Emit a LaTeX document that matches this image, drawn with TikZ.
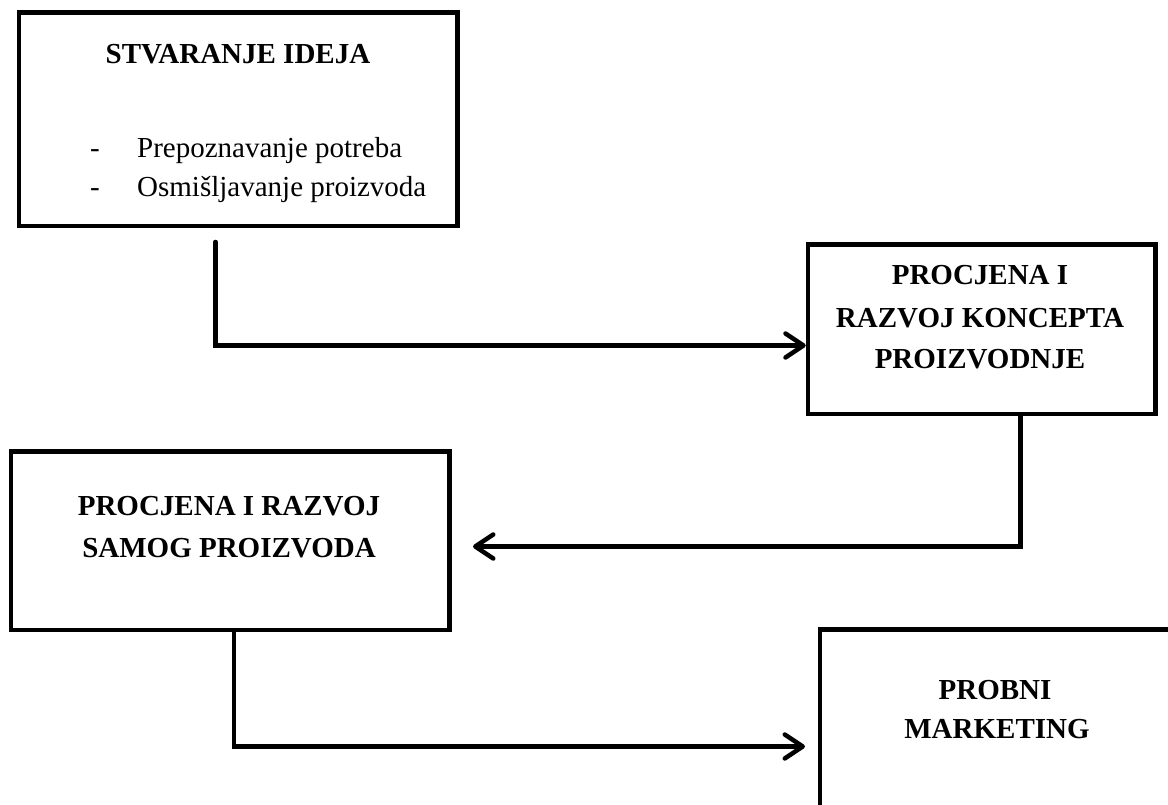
\documentclass[tikz,border=0pt]{standalone}
\usepackage{fontspec}
\setmainfont{Liberation Serif}
\usetikzlibrary{arrows.meta}
\begin{document}
\begin{tikzpicture}[x=1pt,y=-1pt]
\tikzset{
  box/.style={draw=black, line width=4.5pt, inner sep=0pt, rectangle},
  lbl/.style={font=\fontsize{29}{34}\selectfont\bfseries, inner sep=0pt, anchor=base},
  itm/.style={font=\fontsize{29}{34}\selectfont, inner sep=0pt, anchor=base west},
  arr/.style={line width=4.5pt, line cap=round, line join=miter,
    -{Straight Barb[length=18pt,width=24pt,round]}}
}
\useasboundingbox (0,0) rectangle (1168,805);
\clip (0,0) rectangle (1168,805);
\fill[white] (0,0) rectangle (1168,805);

% boxes
\node[box, minimum width=438.5pt, minimum height=213.5pt] (box1) at (238.25,119.25) {};
\node[box, minimum width=347.5pt, minimum height=169.5pt] (box2) at (981.75,329.25) {};
\node[box, minimum width=438.5pt, minimum height=178.5pt] (box3) at (230.25,540.75) {};
\node[box, minimum width=380pt, minimum height=220.5pt] (box4) at (1010,739.75) {};

% texts
\node[lbl] (t1) at (238,64) {STVARANJE IDEJA};
\node[itm] (d1) at (90,158) {-};
\node[itm] (i1) at (137,158) {Prepoznavanje potreba};
\node[itm] (d2) at (90,197) {-};
\node[itm] (i2) at (137,197) {Osmišljavanje proizvoda};

\node[lbl] (t2a) at (980,285) {PROCJENA I};
\node[lbl] (t2b) at (980,327) {RAZVOJ KONCEPTA};
\node[lbl] (t2c) at (980,368) {PROIZVODNJE};

\node[lbl] (t3a) at (229,515) {PROCJENA I RAZVOJ};
\node[lbl] (t3b) at (229,557) {SAMOG PROIZVODA};

\node[lbl] (t4a) at (995,699) {PROBNI};
\node[lbl] (t4b) at (997,738) {MARKETING};

% connectors
\coordinate (s1) at (215.5,242);
\coordinate (e2) at (473,546.5);
\coordinate (e3) at (805,746.5);

\draw[arr] (s1) |- ([yshift=-16.25pt]box2.west);
\draw[arr] ([xshift=38.75pt]box2.south) |- (e2);
\draw[arr] ([xshift=3.75pt]box3.south) |- (e3);
\end{tikzpicture}
\end{document}
